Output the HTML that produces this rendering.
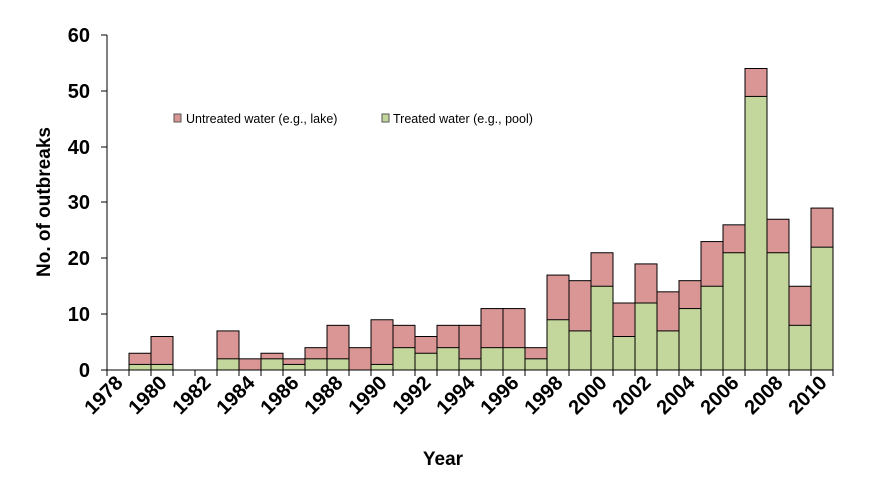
<!DOCTYPE html>
<html><head><meta charset="utf-8"><style>
body{margin:0;background:#fff;}
svg{display:block;font-family:"Liberation Sans",sans-serif;}
</style></head><body>
<svg width="890" height="478" viewBox="0 0 890 478" xmlns="http://www.w3.org/2000/svg">
<g stroke="#000" stroke-width="1">
<g fill="#d99694">
<rect x="129" y="353.25" width="22" height="16.75"/>
<rect x="151" y="336.5" width="22" height="33.5"/>
<rect x="217" y="330.92" width="22" height="39.08"/>
<rect x="239" y="358.83" width="22" height="11.17"/>
<rect x="261" y="353.25" width="22" height="16.75"/>
<rect x="283" y="358.83" width="22" height="11.17"/>
<rect x="305" y="347.67" width="22" height="22.33"/>
<rect x="327" y="325.33" width="22" height="44.67"/>
<rect x="349" y="347.67" width="22" height="22.33"/>
<rect x="371" y="319.75" width="22" height="50.25"/>
<rect x="393" y="325.33" width="22" height="44.67"/>
<rect x="415" y="336.5" width="22" height="33.5"/>
<rect x="437" y="325.33" width="22" height="44.67"/>
<rect x="459" y="325.33" width="22" height="44.67"/>
<rect x="481" y="308.58" width="22" height="61.42"/>
<rect x="503" y="308.58" width="22" height="61.42"/>
<rect x="525" y="347.67" width="22" height="22.33"/>
<rect x="547" y="275.08" width="22" height="94.92"/>
<rect x="569" y="280.67" width="22" height="89.33"/>
<rect x="591" y="252.75" width="22" height="117.25"/>
<rect x="613" y="303" width="22" height="67"/>
<rect x="635" y="263.92" width="22" height="106.08"/>
<rect x="657" y="291.83" width="22" height="78.17"/>
<rect x="679" y="280.67" width="22" height="89.33"/>
<rect x="701" y="241.58" width="22" height="128.42"/>
<rect x="723" y="224.83" width="22" height="145.17"/>
<rect x="745" y="68.5" width="22" height="301.5"/>
<rect x="767" y="219.25" width="22" height="150.75"/>
<rect x="789" y="286.25" width="22" height="83.75"/>
<rect x="811" y="208.08" width="22" height="161.92"/>
</g>
<g fill="#c3d69b">
<rect x="129" y="364.42" width="22" height="5.58"/>
<rect x="151" y="364.42" width="22" height="5.58"/>
<rect x="217" y="358.83" width="22" height="11.17"/>
<rect x="261" y="358.83" width="22" height="11.17"/>
<rect x="283" y="364.42" width="22" height="5.58"/>
<rect x="305" y="358.83" width="22" height="11.17"/>
<rect x="327" y="358.83" width="22" height="11.17"/>
<rect x="371" y="364.42" width="22" height="5.58"/>
<rect x="393" y="347.67" width="22" height="22.33"/>
<rect x="415" y="353.25" width="22" height="16.75"/>
<rect x="437" y="347.67" width="22" height="22.33"/>
<rect x="459" y="358.83" width="22" height="11.17"/>
<rect x="481" y="347.67" width="22" height="22.33"/>
<rect x="503" y="347.67" width="22" height="22.33"/>
<rect x="525" y="358.83" width="22" height="11.17"/>
<rect x="547" y="319.75" width="22" height="50.25"/>
<rect x="569" y="330.92" width="22" height="39.08"/>
<rect x="591" y="286.25" width="22" height="83.75"/>
<rect x="613" y="336.5" width="22" height="33.5"/>
<rect x="635" y="303" width="22" height="67"/>
<rect x="657" y="330.92" width="22" height="39.08"/>
<rect x="679" y="308.58" width="22" height="61.42"/>
<rect x="701" y="286.25" width="22" height="83.75"/>
<rect x="723" y="252.75" width="22" height="117.25"/>
<rect x="745" y="96.42" width="22" height="273.58"/>
<rect x="767" y="252.75" width="22" height="117.25"/>
<rect x="789" y="325.33" width="22" height="44.67"/>
<rect x="811" y="247.17" width="22" height="122.83"/>
</g>
</g>
<line x1="107" y1="35" x2="107" y2="376" stroke="#000"/>
<line x1="101" y1="370" x2="833" y2="370" stroke="#000"/>
<g stroke="#000">
<line x1="101" y1="35" x2="107" y2="35"/><line x1="101" y1="91" x2="107" y2="91"/><line x1="101" y1="147" x2="107" y2="147"/>
<line x1="101" y1="202" x2="107" y2="202"/><line x1="101" y1="258" x2="107" y2="258"/><line x1="101" y1="314" x2="107" y2="314"/>
<path d="M129 370v6M151 370v6M173 370v6M195 370v6M217 370v6M239 370v6M261 370v6M283 370v6M305 370v6M327 370v6M349 370v6M371 370v6M393 370v6M415 370v6M437 370v6M459 370v6M481 370v6M503 370v6M525 370v6M547 370v6M569 370v6M591 370v6M613 370v6M635 370v6M657 370v6M679 370v6M701 370v6M723 370v6M745 370v6M767 370v6M789 370v6M811 370v6M833 370v6"/>
</g>
<g font-size="20" font-weight="bold" text-anchor="end">
<text x="90" y="377">0</text><text x="90" y="321">10</text><text x="90" y="265">20</text>
<text x="90" y="209">30</text><text x="90" y="154">40</text><text x="90" y="98">50</text><text x="90" y="42">60</text>
</g>
<g font-size="20" font-weight="bold" text-anchor="end">
<text transform="translate(124,384) rotate(-45)">1978</text>
<text transform="translate(168,384) rotate(-45)">1980</text>
<text transform="translate(212,384) rotate(-45)">1982</text>
<text transform="translate(256,384) rotate(-45)">1984</text>
<text transform="translate(300,384) rotate(-45)">1986</text>
<text transform="translate(344,384) rotate(-45)">1988</text>
<text transform="translate(388,384) rotate(-45)">1990</text>
<text transform="translate(432,384) rotate(-45)">1992</text>
<text transform="translate(476,384) rotate(-45)">1994</text>
<text transform="translate(520,384) rotate(-45)">1996</text>
<text transform="translate(564,384) rotate(-45)">1998</text>
<text transform="translate(608,384) rotate(-45)">2000</text>
<text transform="translate(652,384) rotate(-45)">2002</text>
<text transform="translate(696,384) rotate(-45)">2004</text>
<text transform="translate(740,384) rotate(-45)">2006</text>
<text transform="translate(784,384) rotate(-45)">2008</text>
<text transform="translate(828,384) rotate(-45)">2010</text>
</g>
<text x="443" y="465" font-size="19" font-weight="bold" text-anchor="middle">Year</text>
<text transform="translate(50,202) rotate(-90)" font-size="19" font-weight="bold" text-anchor="middle">No. of outbreaks</text>
<rect x="174" y="114" width="7" height="8" fill="#d99694" stroke="#555"/>
<text x="186" y="123" font-size="12.5">Untreated water (e.g., lake)</text>
<rect x="382" y="114" width="7" height="8" fill="#c3d69b" stroke="#555"/>
<text x="393" y="123" font-size="12.5">Treated water (e.g., pool)</text>
</svg>
</body></html>
